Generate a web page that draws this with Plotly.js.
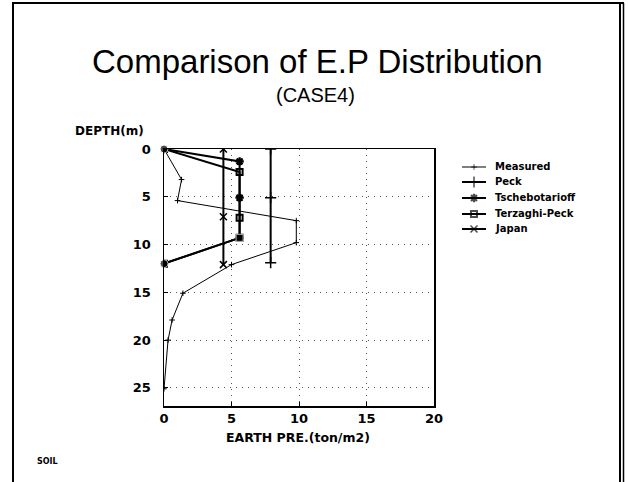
<!DOCTYPE html>
<html>
<head>
<meta charset="utf-8">
<script src="https://cdn.plot.ly/plotly-3.0.1.min.js"></script>
<style>html,body{margin:0;padding:0;background:#fff;}#chart{width:628px;height:482px;}</style>
</head>
<body>
<div id="chart"></div>
<script>
// Series (x = earth pressure ton/m2, y = depth m)
var measuredX = [0, 1.3, 1.0, 9.8, 9.8, 5.0, 1.4, 0.6, 0.3, 0];
var measuredY = [0, 3.2, 5.4, 7.5, 9.8, 12.1, 15.1, 17.9, 20.0, 25.1];
var peckX = [7.9, 7.9, 7.9];
var peckY = [0, 5.1, 11.9];
var tschebX = [0, 5.6, 5.6, 5.6, 0];
var tschebY = [0, 1.3, 5.1, 9.3, 12];
var terzX = [0, 5.6, 5.6, 5.6, 0];
var terzY = [0, 2.4, 7.2, 9.3, 12];
var japanX = [4.4, 4.4, 4.4];
var japanY = [0, 7.1, 12.1];
var seriesNames = ["Measured", "Peck", "Tschebotarioff", "Terzaghi-Peck", "Japan"];
var xTicks = [0, 5, 10, 15, 20];
var yTicks = [0, 5, 10, 15, 20, 25];

var F = "Liberation Sans, Arial, sans-serif";
var FB = "DejaVu Sans, sans-serif";
var styles = [
  {lw: 1, sym: "cross-thin-open", size: 4, mlw: 1},
  {lw: 2, sym: "cross-thin-open", size: 8, mlw: 1.5},
  {lw: 2, sym: "asterisk-open", size: 7, mlw: 2.2},
  {lw: 2, sym: "square-open", size: 6, mlw: 2},
  {lw: 2, sym: "x-thin-open", size: 7, mlw: 1.5}
];
var seriesX = [measuredX, peckX, tschebX, terzX, japanX];
var seriesY = [measuredY, peckY, tschebY, terzY, japanY];

var W = 628, H = 482;
function px(x){return x/W;}
function py(y){return (H-y)/H;}

var traces = [];
// page frame (drawn on a hidden full-page helper axis, pixel units)
traces.push({x: [13, 13, 624, null, 620, 620], y: [482, 3, 3, null, 3, 482], xaxis: "x3", yaxis: "y3",
  mode: "lines", showlegend: false, cliponaxis: false, line: {color: "#000", width: 2}});
traces.push({x: [623.5, 623.5], y: [3, 482], xaxis: "x3", yaxis: "y3",
  mode: "lines", showlegend: false, cliponaxis: false, line: {color: "#000", width: 1.5}});

for (var i = 0; i < 5; i++) {
  var s = styles[i];
  traces.push({x: seriesX[i], y: seriesY[i], name: seriesNames[i], mode: "lines+markers", showlegend: false,
    line: {color: "#000", width: s.lw},
    marker: {symbol: s.sym, size: s.size, color: "#000", line: {width: s.mlw, color: "#000"}}});
}
traces.push({x: [tschebX[0], terzX[3], tschebX[4]], y: [tschebY[0], terzY[3], tschebY[4]], mode: "markers", showlegend: false,
  marker: {symbol: ["circle", "square", "circle"], size: [8, 7, 8], color: "#000"}, cliponaxis: false});

// hand-made legend (drawn on a hidden helper axis)
var legRowY = [167, 182, 198, 214, 229];
var legAnn = [];
for (var j = 0; j < 5; j++) {
  var st = styles[j];
  traces.push({x: [462, 474, 486], y: [legRowY[j], legRowY[j], legRowY[j]], xaxis: "x2", yaxis: "y2",
    mode: "lines+markers", showlegend: false, line: {color: "#000", width: st.lw},
    marker: {symbol: st.sym, size: [0, st.size, 0], color: "#000", line: {width: st.mlw, color: "#000"}}});
  legAnn.push({text: seriesNames[j], xref: "x2", yref: "y2", x: 493, y: legRowY[j], xanchor: "left", yanchor: "middle",
    showarrow: false, font: {family: FB, size: 10, weight: "bold", color: "#000"}});
}

var layout = {
  width: W, height: H,
  margin: {l: 0, r: 0, t: 0, b: 0},
  paper_bgcolor: "#fff", plot_bgcolor: "rgba(0,0,0,0)",
  font: {family: F, color: "#000"},
  showlegend: false,
  xaxis: {domain: [px(164), px(434)], range: [0, 20], tickvals: xTicks, ticktext: xTicks.map(String),
    showgrid: true, gridcolor: "#555", griddash: "1px,5px", gridwidth: 1,
    showline: true, linecolor: "#000", linewidth: 1.5, mirror: true,
    ticks: "inside", ticklen: 4, tickcolor: "#000", zeroline: false,
    tickfont: {family: FB, size: 13, weight: "bold", color: "#000"}},
  yaxis: {domain: [py(406), py(149)], range: [26.9, 0], tickvals: yTicks, ticktext: yTicks.map(String),
    showgrid: true, gridcolor: "#555", griddash: "1px,5px", gridwidth: 1,
    showline: true, linecolor: "#000", linewidth: 1.5, mirror: true,
    ticks: "inside", ticklen: 4, tickcolor: "#000", zeroline: false, ticklabelstandoff: 9,
    tickfont: {family: FB, size: 13, weight: "bold", color: "#000"}},
  xaxis2: {domain: [px(452), px(500)], range: [452, 500], anchor: "y2", visible: false, fixedrange: true},
  yaxis2: {domain: [py(240), py(157)], range: [240, 157], anchor: "x2", visible: false, fixedrange: true},
  xaxis3: {domain: [0, 1], range: [0, W], anchor: "y3", visible: false, fixedrange: true},
  yaxis3: {domain: [0, 1], range: [H, 0], anchor: "x3", visible: false, fixedrange: true},
  annotations: [
    {text: "Comparison of E.P Distribution", xref: "paper", yref: "paper", x: px(317), y: py(61),
     xanchor: "center", yanchor: "middle", showarrow: false, font: {family: F, size: 33, color: "#000"}},
    {text: "(CASE4)", xref: "paper", yref: "paper", x: px(315), y: py(95),
     xanchor: "center", yanchor: "middle", showarrow: false, font: {family: F, size: 20, color: "#000"}},
    {text: "DEPTH(m)", xref: "paper", yref: "paper", x: px(73), y: py(131),
     xanchor: "left", yanchor: "middle", showarrow: false, font: {family: FB, size: 12, weight: "bold", color: "#000"}},
    {text: "EARTH PRE.(ton/m2)", xref: "paper", yref: "paper", x: px(298), y: py(437),
     xanchor: "center", yanchor: "middle", showarrow: false, font: {family: FB, size: 12.5, weight: "bold", color: "#000"}},
    {text: "SOIL", xref: "paper", yref: "paper", x: px(35), y: py(461),
     xanchor: "left", yanchor: "middle", showarrow: false, font: {family: FB, size: 8, weight: "bold", color: "#000"}}
  ].concat(legAnn)
};
Plotly.newPlot("chart", traces, layout, {displayModeBar: false, staticPlot: true});
</script>
</body>
</html>
